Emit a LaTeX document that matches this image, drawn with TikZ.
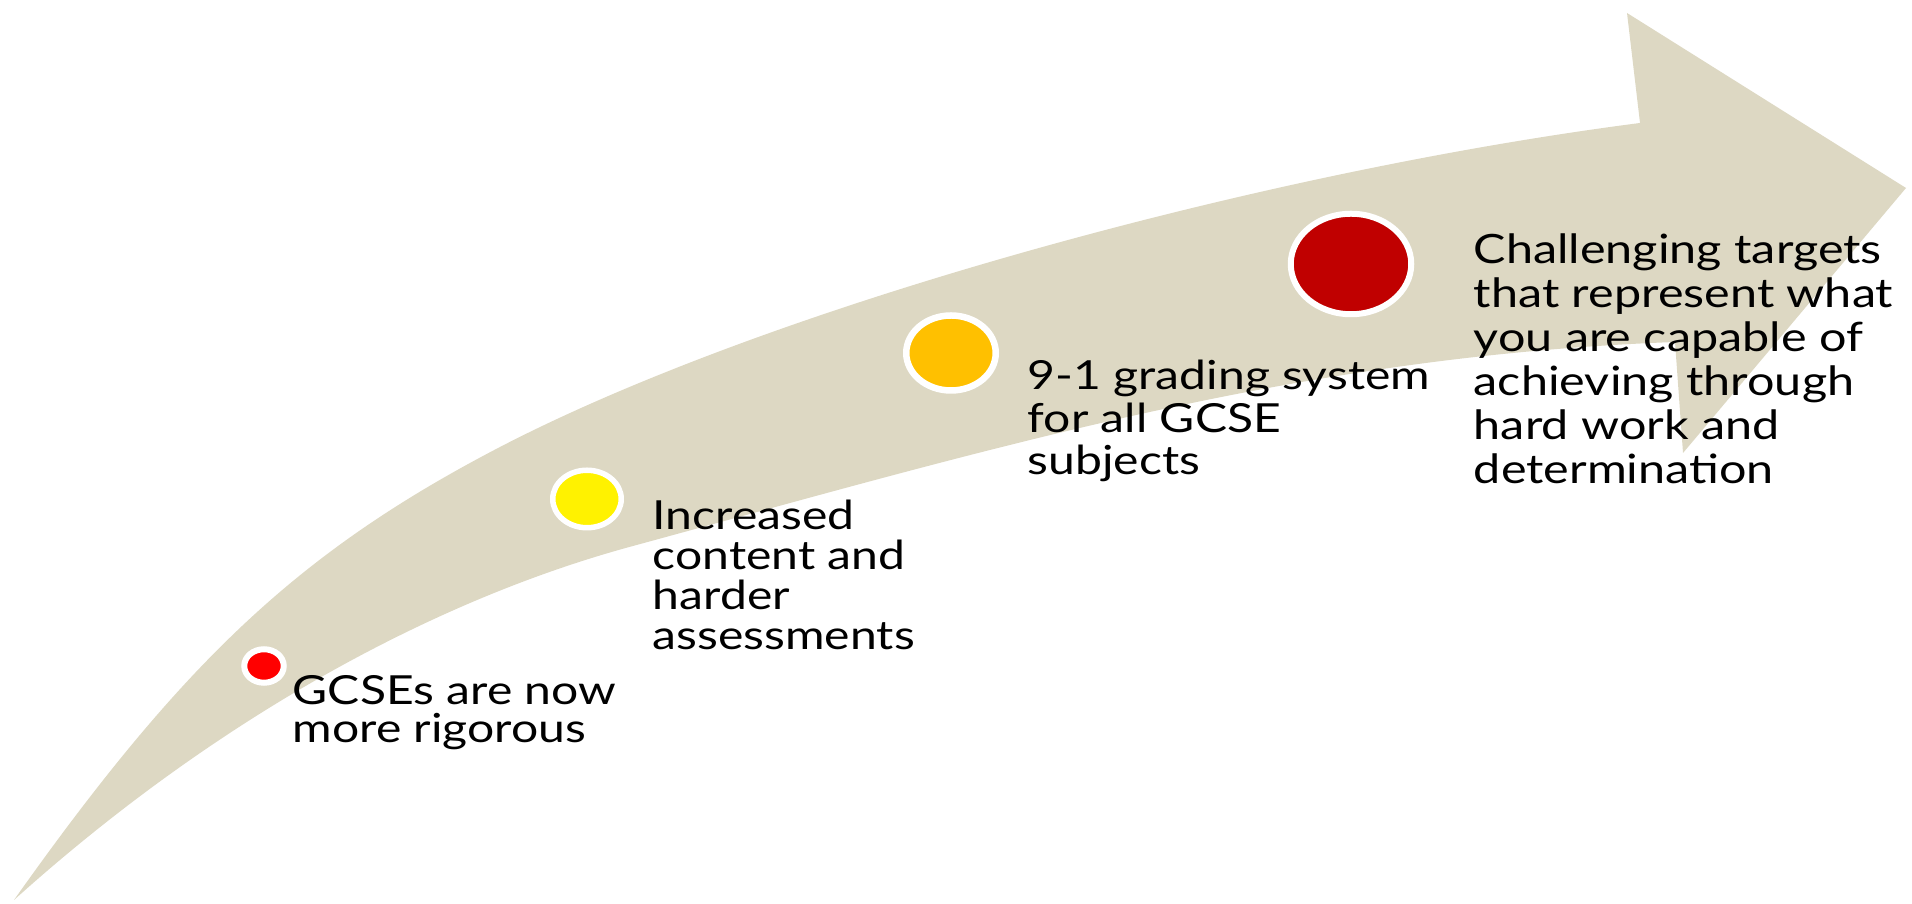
\documentclass[tikz,border=0pt]{standalone}
\usepackage{fontspec}
\setmainfont{Lato}
\usetikzlibrary{shapes.geometric}
\definecolor{tan}{HTML}{DDD8C3}
\definecolor{gold}{HTML}{FFC000}
\definecolor{darkred}{HTML}{C00000}
\tikzstyle{spot}=[ellipse,draw=white,line width=0.6mm,inner sep=0pt,outer sep=0pt]
\tikzstyle{blurb}=[anchor=north west,inner sep=0pt,align=left,xscale=1.2,font=\fontsize{11.4}{11.1}\selectfont]

\begin{document}
\begin{tikzpicture}[x=0.1mm,y=-0.1mm]
	\useasboundingbox (0,0) rectangle (1912,904);
	% the bent arrow
	\fill[tan] (14,900) .. controls (184,660) and (300,551) .. (500,447)
		.. controls (770,307) and (1260,172) .. (1640,123)
		-- (1627,13) -- (1906,188) -- (1683,453) -- (1675,342)
		.. controls (1300,356) and (1000,446) .. (633,546)
		.. controls (433,600) and (214,720) .. (14,900) -- cycle;
	% the four spots
	\node[spot,fill=red,minimum width=3.95mm,minimum height=3.35mm] (p1) at (264,666) {};
	\node[spot,fill=yellow,line width=0.55mm,minimum width=6.85mm,minimum height=5.75mm] (p2) at (587,499) {};
	\node[spot,fill=gold,line width=0.65mm,minimum width=8.95mm,minimum height=7.5mm] (p3) at (951,353) {};
	\node[spot,fill=darkred,minimum width=12.05mm,minimum height=10.05mm] (p4) at (1351,264) {};
	% the texts
	\node[blurb,font=\fontsize{11.4}{10.8}\selectfont] (t1) at (292,675) {GCSEs are now\\more rigorous};
	\node[blurb,font=\fontsize{11.4}{11.4}\selectfont] (t2) at (652,499) {Increased\\content and\\harder\\assessments};
	\node[blurb,font=\fontsize{11.4}{12.2}\selectfont] (t3) at (1027,359) {9-1 grading system\\for all GCSE\\subjects};
	\node[blurb,font=\fontsize{11.5}{12.5}\selectfont] (t4) at (1473,233) {Challenging targets\\that represent what\\you are capable of\\achieving through\\hard work and\\determination};
\end{tikzpicture}
\end{document}
